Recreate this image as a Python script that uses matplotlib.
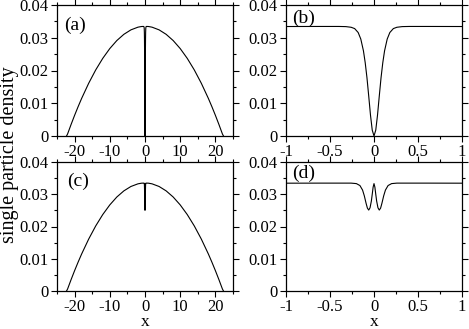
import numpy as np
import matplotlib
matplotlib.use("Agg")
import matplotlib.pyplot as plt
from matplotlib.ticker import MultipleLocator

plt.rcParams['font.family'] = ['Liberation Serif', 'DejaVu Serif']
plt.rcParams['axes.unicode_minus'] = False

x_wide = [1, 2, 4, 6, 8, 10, 12, 14, 16, 18, 19, 20, 21, 22, 22.3]
n_wide = [0.03343, 0.03323, 0.03241, 0.03105, 0.02915, 0.02670, 0.02371,
          0.02018, 0.01610, 0.01148, 0.00896, 0.00631, 0.00352, 0.00060, 0.0]

# core region, positive side (panel b: single dip)
x_core_b = [0.0, 0.02, 0.04, 0.06, 0.08, 0.10, 0.12, 0.15, 0.18, 0.22, 0.26, 0.32, 0.4, 0.6]
n_core_b = [0.0, 0.0018, 0.0064, 0.0122, 0.0178, 0.0224, 0.0260, 0.0296,
            0.0316, 0.0328, 0.0332, 0.03340, 0.03345, 0.03345]

# core region, positive side (panel d: double dip)
x_core_d = [0.0, 0.01, 0.02, 0.03, 0.045, 0.06, 0.075, 0.09, 0.11, 0.13, 0.16, 0.2, 0.26, 0.4, 0.6]
n_core_d = [0.0333, 0.0322, 0.0300, 0.0279, 0.0258, 0.0251, 0.0257, 0.0272,
            0.0295, 0.0313, 0.0327, 0.0333, 0.03345, 0.03345, 0.03345]

y_ticks = [0, 0.01, 0.02, 0.03, 0.04]
y_tick_labels = ['0', '0.01', '0.02', '0.03', '0.04']
x_ticks_wide = [-20, -10, 0, 10, 20]
x_ticks_core = [-1, -0.5, 0, 0.5, 1]
x_tick_labels_core = ['-1', '-0.5', '0', '0.5', '1']
panel_names = ['(a)', '(b)', '(c)', '(d)']


def mirror(xs, ys):
    xs = np.asarray(xs, float)
    ys = np.asarray(ys, float)
    if xs[0] == 0:
        return np.concatenate([-xs[:0:-1], xs]), np.concatenate([ys[:0:-1], ys])
    return np.concatenate([-xs[::-1], xs]), np.concatenate([ys[::-1], ys])


def full_profile(xc, nc):
    # outer parabola + core
    xc, nc = mirror(xc, nc)
    keep = np.abs(xc) < 1
    xw, nw = mirror(x_wide, n_wide)
    x = np.concatenate([xw[xw < 0], xc[keep], xw[xw > 0]])
    n = np.concatenate([nw[xw < 0], nc[keep], nw[xw > 0]])
    return x, n


def style(ax):
    ax.set_ylim(0, 0.04)
    ax.set_yticks(y_ticks)
    ax.set_yticklabels(y_tick_labels)
    ax.yaxis.set_minor_locator(MultipleLocator(0.005))
    ax.tick_params(which='both', direction='out', top=True, right=True,
                   labelsize=12, width=0.8, pad=2)
    ax.tick_params(axis='x', pad=1.5)
    ax.tick_params(which='major', length=4)
    ax.tick_params(which='minor', length=2)
    for s in ax.spines.values():
        s.set_linewidth(0.9)


fig = plt.figure(figsize=(4.69, 3.29), dpi=100)
W, H = 469.0, 329.0
pos = {
    0: (57, 5, 233, 136),
    1: (286, 5, 462, 136),
    2: (57, 162, 233, 291),
    3: (286, 162, 462, 291),
}
axes = []
for i in range(4):
    l, t, r, b = pos[i]
    axes.append(fig.add_axes([l / W, 1 - b / H, (r - l) / W, (b - t) / H]))

cores = [(x_core_b, n_core_b), (x_core_b, n_core_b), (x_core_d, n_core_d), (x_core_d, n_core_d)]
label_pos = [(0.04, 0.91), (0.035, 0.965), (0.055, 0.92), (0.035, 0.98)]

for i, ax in enumerate(axes):
    x, n = full_profile(*cores[i])
    ax.plot(x, n, color='black', lw=0.8, solid_joinstyle='round')
    style(ax)
    if i % 2 == 0:
        ax.set_xlim(-25, 25)
        ax.set_xticks(x_ticks_wide)
        ax.xaxis.set_minor_locator(MultipleLocator(5))
    else:
        ax.set_xlim(-1, 1)
        ax.set_xticks(x_ticks_core)
        ax.set_xticklabels(x_tick_labels_core)
        ax.xaxis.set_minor_locator(MultipleLocator(0.25))
    if i >= 2:
        ax.set_xlabel('x', fontsize=12.5, labelpad=-0.5)
    ax.text(label_pos[i][0], label_pos[i][1], panel_names[i], transform=ax.transAxes,
            fontsize=14, ha='left', va='top')

fig.text(10 / W, 1 - 155 / H, 'single particle density', rotation=90,
         fontsize=14.5, ha='center', va='center')

fig.savefig('out.png', dpi=100)
